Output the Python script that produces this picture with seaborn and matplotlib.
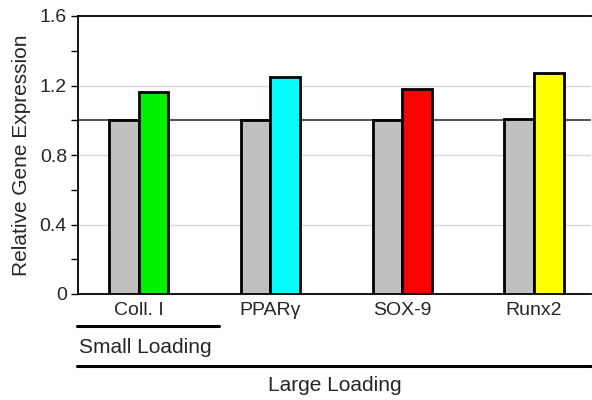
import pandas as pd
import matplotlib
matplotlib.use("Agg")
import matplotlib.pyplot as plt
import seaborn as sns

# values
genes = ["Coll. I", "PPAR\u03b3", "SOX-9", "Runx2"]
control = [1.00, 1.00, 1.00, 1.01]
loaded = [1.16, 1.25, 1.18, 1.27]
loaded_colors = ["#00f000", "#00ffff", "#ff0000", "#ffff00"]
control_color = "#c0c0c0"
y_ticks = [0, 0.4, 0.8, 1.2, 1.6]

df = pd.DataFrame({
    "gene": genes * 2,
    "value": control + loaded,
    "cond": ["control"] * len(genes) + ["loaded"] * len(genes),
})

sns.set_style("white")
plt.rcParams["font.family"] = ["Liberation Sans", "DejaVu Sans"]

fig = plt.figure(figsize=(5.92, 4), dpi=100)
ax = fig.add_axes([0.1318, 0.265, 0.866, 0.695])

sns.barplot(data=df, x="gene", y="value", hue="cond", order=genes,
            palette=[control_color, loaded_colors[0]], width=0.45,
            edgecolor="black", linewidth=2, legend=False, ax=ax, zorder=3)

# second bar in every group has its own colour
for bar, c in zip(ax.containers[1], loaded_colors):
    bar.set_facecolor(c)

ax.set_xlim(-0.46, 3.43)
ax.set_ylim(0, 1.6)
ax.set_yticks(y_ticks)
ax.set_yticklabels(["0", "0.4", "0.8", "1.2", "1.6"], fontsize=14)
ax.set_yticks([0.2, 0.6, 1.0, 1.4], minor=True)
ax.tick_params(axis="y", which="both", direction="out", length=5, width=1,
               color="black", left=True, pad=3)
ax.tick_params(axis="x", length=0, labelsize=14, pad=6)
ax.set_xlabel("")
ax.set_ylabel("Relative Gene Expression", fontsize=15, labelpad=6)

for y in [0.4, 0.8, 1.2]:
    ax.axhline(y, color="#d8d8d8", lw=1, zorder=1)
ax.axhline(1.0, color="#444444", lw=1.3, zorder=2)

for side in ["left", "bottom", "top"]:
    ax.spines[side].set_color("black")
    ax.spines[side].set_linewidth(1.3)
ax.spines["right"].set_visible(False)

# loading annotations under the axis
tr = ax.get_xaxis_transform()
ax.plot([-0.47, 0.606], [-0.115, -0.115], color="black", lw=2.2,
        transform=tr, clip_on=False)
ax.text(-0.455, -0.194, "Small Loading", fontsize=15, ha="left", va="center",
        transform=tr)
ax.plot([-0.47, 3.43], [-0.258, -0.258], color="black", lw=2.2,
        transform=tr, clip_on=False)
ax.text(0.5, -0.33, "Large Loading", fontsize=15, ha="center", va="center",
        transform=ax.transAxes)

fig.savefig("out.png", dpi=100)
